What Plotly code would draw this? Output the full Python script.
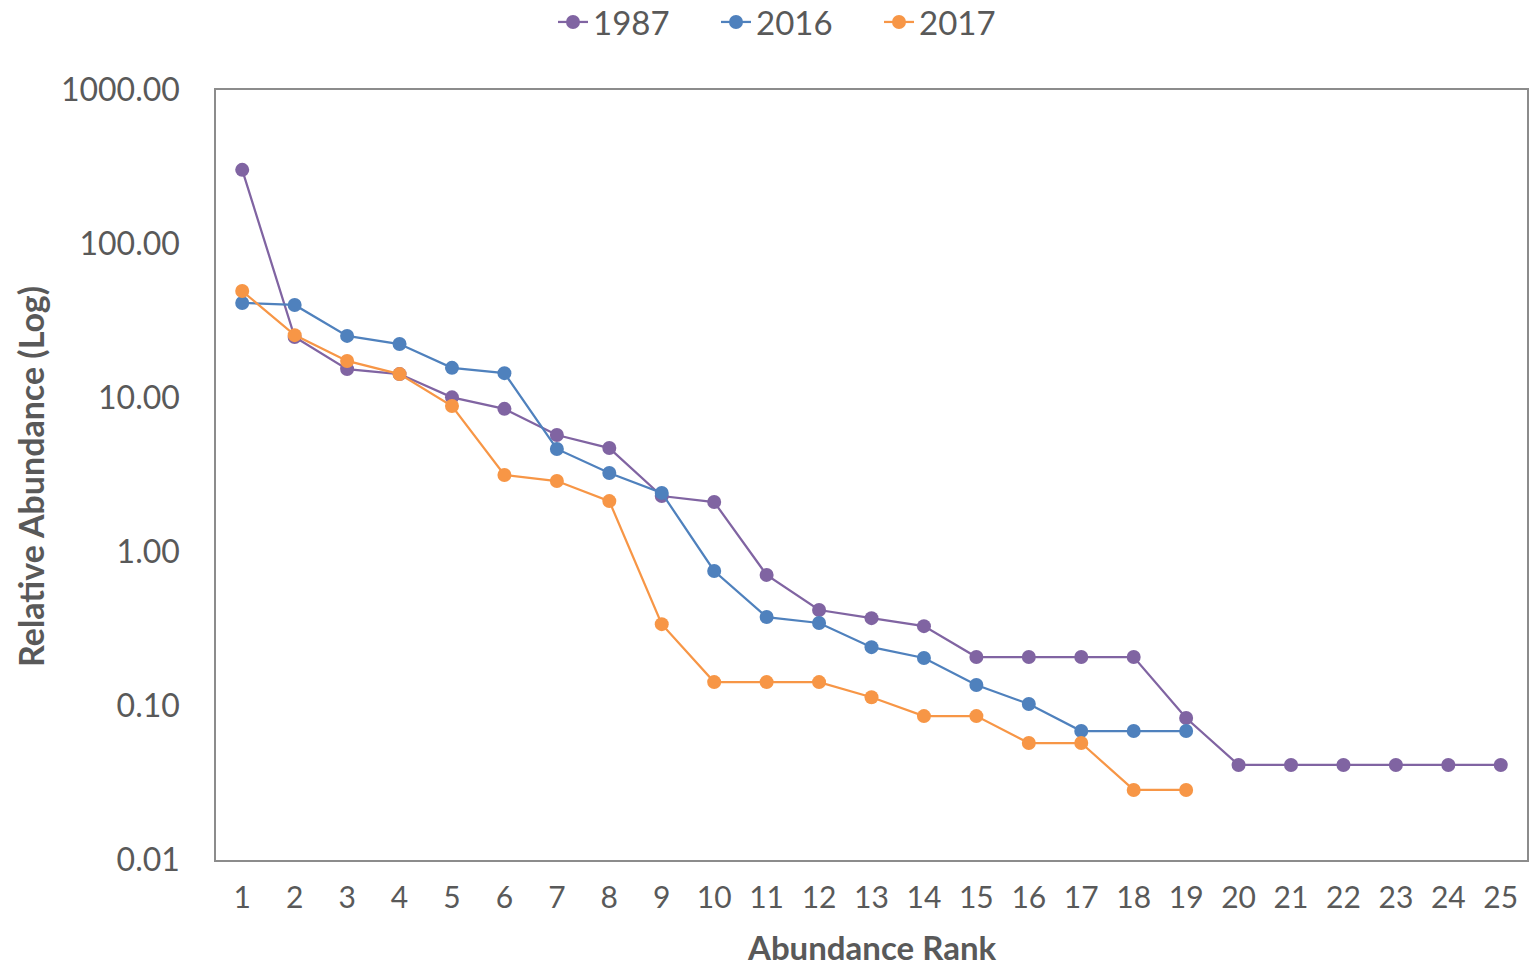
import plotly.graph_objects as go

ranks = list(range(1, 26))
y1987 = [303, 24.9, 15.4, 14.3, 10.1, 8.5, 5.75, 4.73, 2.31, 2.11, 0.71, 0.42, 0.372, 0.33,
         0.208, 0.208, 0.208, 0.208, 0.0835, 0.0414, 0.0414, 0.0414, 0.0414, 0.0414, 0.0414]
y2016 = [41.4, 40.2, 25.3, 22.4, 15.7, 14.5, 4.67, 3.26, 2.42, 0.753, 0.378, 0.346, 0.241, 0.205,
         0.137, 0.103, 0.0688, 0.0688, 0.0688]
y2017 = [49.5, 25.6, 17.4, 14.3, 8.87, 3.16, 2.89, 2.14, 0.34, 0.143, 0.143, 0.143, 0.114, 0.086,
         0.086, 0.0575, 0.0575, 0.0285, 0.0285]
ytick_vals = [0.01, 0.1, 1, 10, 100, 1000]
ytick_text = ["0.01", "0.10", "1.00", "10.00", "100.00", "1000.00"]

series = [("1987", y1987, "#8064A2"), ("2016", y2016, "#4F81BD"), ("2017", y2017, "#F79646")]

fig = go.Figure()
for name, vals, col in series:
    fig.add_trace(go.Scatter(
        x=ranks[:len(vals)], y=vals, name=name, mode="lines+markers",
        line=dict(color=col, width=2.25), marker=dict(color=col, size=14),
    ))

W, H = 1531, 966
L, R, T, B = 216, 4, 90, 106
pw, ph = W - L - R, H - T - B

def px(xp):
    return (xp - L) / pw

def py(yp):
    return (H - B - yp) / ph

font = "Lato, 'Open Sans', sans-serif"
fig.update_layout(
    width=W, height=H,
    margin=dict(l=L, r=R, t=T, b=B, autoexpand=False),
    plot_bgcolor="white", paper_bgcolor="white",
    font=dict(family=font, color="#595959", size=32),
    legend=dict(orientation="h", x=px(553), xanchor="left", y=py(22), yanchor="middle",
                font=dict(size=33, color="#595959"), tracegroupgap=0,
                entrywidth=118, entrywidthmode="pixels"),
    xaxis=dict(range=[0.5, 25.5], tickmode="array", tickvals=ranks, ticktext=[str(r) for r in ranks],
               showgrid=False, showline=True, linecolor="#8c8c8c", linewidth=1.5, mirror=True,
               ticks="outside", ticklen=10, tickcolor="white", tickfont=dict(size=30),
               zeroline=False, automargin=False),
    yaxis=dict(type="log", range=[-2, 3], tickmode="array", tickvals=ytick_vals, ticktext=ytick_text,
               showgrid=False, showline=True, linecolor="#8c8c8c", linewidth=1.5, mirror=True,
               ticks="outside", ticklen=28, tickcolor="white", tickfont=dict(size=32),
               zeroline=False, automargin=False),
    annotations=[
        dict(text="<b>Abundance Rank</b>", x=px(871), y=py(947), xref="paper", yref="paper",
             xanchor="center", yanchor="middle", showarrow=False,
             font=dict(size=33, color="#595959")),
        dict(text="<b>Relative Abundance (Log)</b>", x=px(30), y=py(477), xref="paper", yref="paper",
             xanchor="center", yanchor="middle", showarrow=False, textangle=-90,
             font=dict(size=34, color="#595959")),
    ],
)
fig.write_html("out.html", config={"displayModeBar": False},
               post_script="document.body.style.margin='0px';")
